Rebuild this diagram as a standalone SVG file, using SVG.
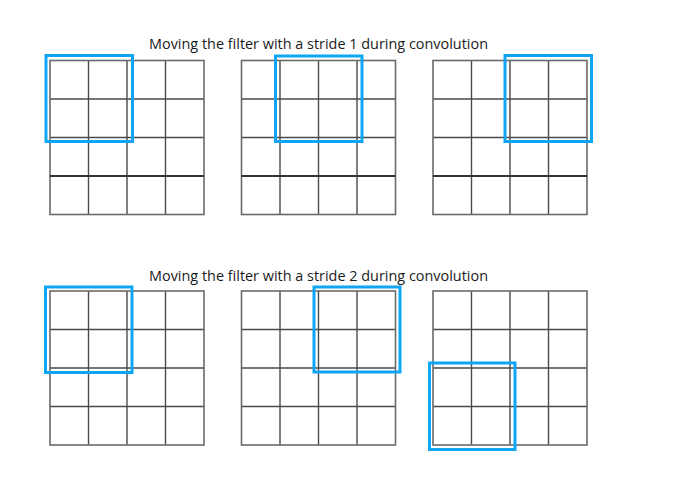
<svg xmlns="http://www.w3.org/2000/svg" width="677" height="497" viewBox="0 0 677 497">
<style>
.t{font-family:"Open Sans","Liberation Sans",sans-serif;font-size:14px;fill:#1a1a1a}
.g{fill:none;stroke:#4a4a4a;stroke-width:1.4}
.d{fill:none;stroke:#333;stroke-width:2}
.o{fill:none;stroke:#6a6a6a;stroke-width:1.6}
.f{fill:none;stroke:#0ea5f5;stroke-width:3}
</style>
<defs>
<g id="grid">
<path class="g" d="M38.5 0V154M77 0V154M115.5 0V154M0 38.5H154M0 77H154M0 115.5H154"/>
<rect class="o" x="0" y="0" width="154" height="154"/>
</g>
<path id="thick" class="d" d="M0 115.5H154"/>
</defs>
<rect width="677" height="497" fill="#fff"/>
<text class="t" x="149" y="48.5" textLength="339" lengthAdjust="spacingAndGlyphs">Moving the filter with a stride 1 during convolution</text>
<text class="t" x="149" y="280.5" textLength="339" lengthAdjust="spacingAndGlyphs">Moving the filter with a stride 2 during convolution</text>
<g id="s1a"><use href="#grid" x="50" y="60.5"/><use href="#thick" x="50" y="60.5"/><rect class="f" x="46" y="55.5" width="86.5" height="86"/></g>
<g id="s1b"><use href="#grid" x="241.5" y="60.5"/><use href="#thick" x="241.5" y="60.5"/><rect class="f" x="275.5" y="56" width="86.5" height="85.5"/></g>
<g id="s1c"><use href="#grid" x="433" y="60.5"/><use href="#thick" x="433" y="60.5"/><rect class="f" x="505" y="55.5" width="86.5" height="86"/></g>
<g id="s2a"><use href="#grid" x="50" y="291"/><rect class="f" x="45.5" y="287" width="86.5" height="85.5"/></g>
<g id="s2b"><use href="#grid" x="241.5" y="291"/><rect class="f" x="314" y="287" width="86" height="85"/></g>
<g id="s2c"><use href="#grid" x="433" y="291"/><rect class="f" x="429.5" y="363" width="85.5" height="86.5"/></g>
</svg>
